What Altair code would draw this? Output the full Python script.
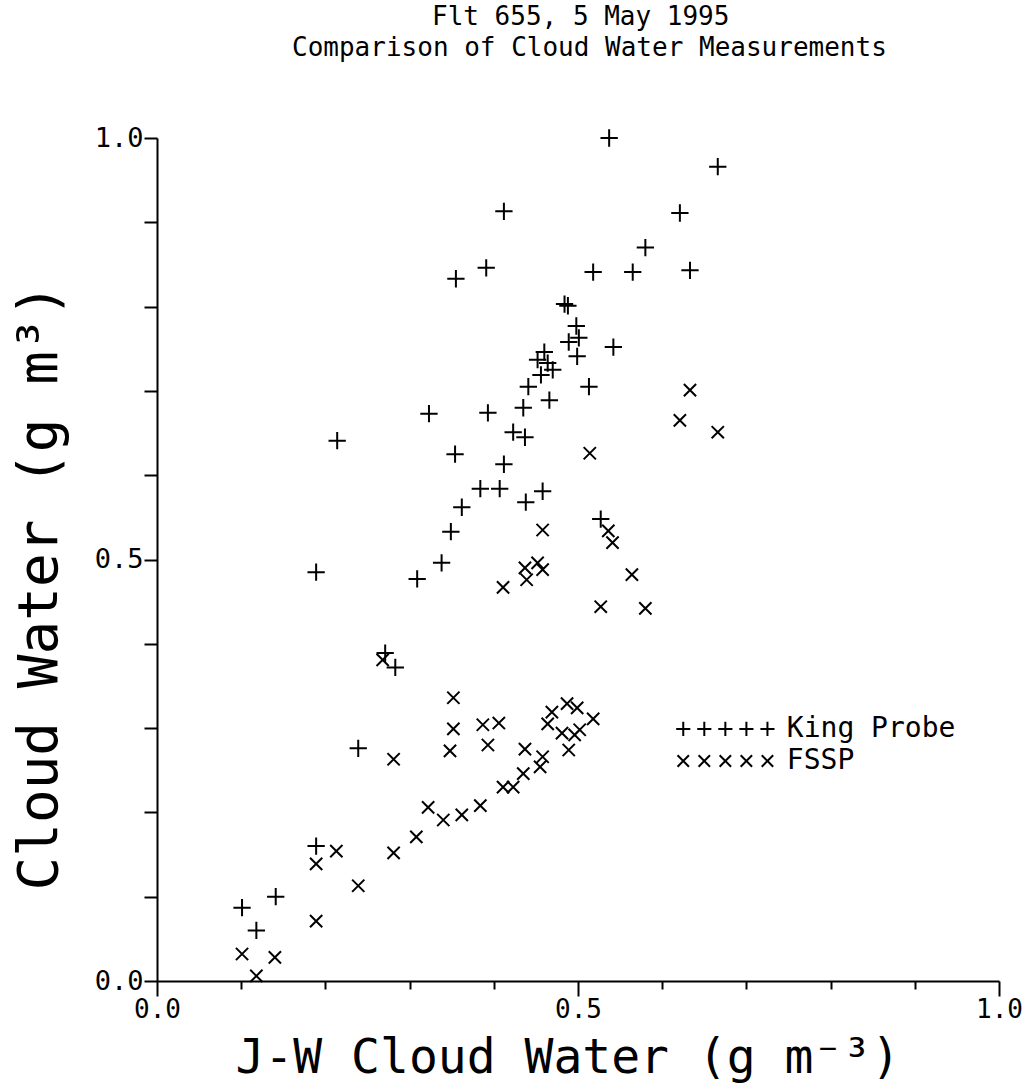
import altair as alt
import pandas as pd

# ---------------- data ----------------
king_x = [0.537, 0.666, 0.412, 0.621, 0.580, 0.391, 0.355, 0.518, 0.565, 0.633,
          0.484, 0.488, 0.498, 0.501, 0.489, 0.542, 0.499, 0.460, 0.452, 0.464,
          0.470, 0.456, 0.513, 0.441, 0.466, 0.435, 0.393, 0.323, 0.423, 0.437,
          0.214, 0.354, 0.412, 0.384, 0.407, 0.458, 0.438, 0.362, 0.349, 0.527,
          0.338, 0.309, 0.189, 0.271, 0.283, 0.239, 0.189, 0.141, 0.101, 0.118]
king_y = [1.000, 0.966, 0.913, 0.911, 0.870, 0.846, 0.833, 0.841, 0.841, 0.843,
          0.803, 0.801, 0.777, 0.763, 0.758, 0.752, 0.741, 0.746, 0.737, 0.733,
          0.725, 0.719, 0.705, 0.705, 0.689, 0.680, 0.674, 0.673, 0.651, 0.645,
          0.641, 0.625, 0.613, 0.584, 0.584, 0.581, 0.568, 0.562, 0.533, 0.548,
          0.496, 0.477, 0.485, 0.389, 0.372, 0.276, 0.160, 0.100, 0.087, 0.060]

fssp_x = [0.633, 0.621, 0.666, 0.514, 0.458, 0.536, 0.541, 0.564, 0.527, 0.580,
          0.411, 0.437, 0.439, 0.452, 0.458, 0.268, 0.352, 0.352, 0.387, 0.406,
          0.348, 0.393, 0.281, 0.437, 0.458, 0.455, 0.435, 0.423, 0.411, 0.384,
          0.362, 0.340, 0.322, 0.308, 0.469, 0.487, 0.499, 0.464, 0.481, 0.496,
          0.502, 0.518, 0.489, 0.281, 0.239, 0.213, 0.189, 0.189, 0.101, 0.140,
          0.118]
fssp_y = [0.701, 0.665, 0.651, 0.626, 0.535, 0.534, 0.520, 0.482, 0.444, 0.442,
          0.467, 0.490, 0.476, 0.496, 0.488, 0.381, 0.336, 0.299, 0.304, 0.306,
          0.273, 0.280, 0.263, 0.275, 0.266, 0.254, 0.246, 0.230, 0.230, 0.208,
          0.197, 0.191, 0.206, 0.171, 0.319, 0.329, 0.324, 0.305, 0.294, 0.292,
          0.298, 0.311, 0.274, 0.152, 0.113, 0.154, 0.139, 0.071, 0.032, 0.028,
          0.006]

series_names = ["King Probe", "FSSP"]
x_ticks = [0.0, 0.1, 0.2, 0.3, 0.4, 0.5, 0.6, 0.7, 0.8, 0.9, 1.0]
y_ticks = [0.0, 0.1, 0.2, 0.3, 0.4, 0.5, 0.6, 0.7, 0.8, 0.9, 1.0]

# legend placed in data units (five repeated symbols, then label)
legend_sym_x = [0.625, 0.650, 0.675, 0.700, 0.725]
legend_row_y = [0.299, 0.261]
legend_text_x = 0.748

title_lines = ["Flt 655, 5 May 1995", "Comparison of Cloud Water Measurements"]
x_title = "J-W Cloud Water (g m\u207b\u00b3)"
y_title = "Cloud Water (g m\u00b3)"

# ---------------- styling ----------------
FONT = "DejaVu Sans Mono"
PLUS = "M-1,0L1,0M0,-1L0,1"
CROSS = "M-1,-1L1,1M-1,1L1,-1"

W, H = 842, 843

king_df = pd.DataFrame({"x": king_x, "y": king_y, "series": series_names[0]})
fssp_df = pd.DataFrame({"x": fssp_x, "y": fssp_y, "series": series_names[1]})

major = "abs(datum.value*2 - round(datum.value*2)) < 0.001"

xscale = alt.Scale(domain=[0, 1], nice=False, zero=False)
yscale = alt.Scale(domain=[0, 1], nice=False, zero=False)

x_axis = alt.Axis(
    values=x_ticks, grid=False, domainColor="black", domainWidth=2,
    tickColor="black", tickWidth=2,
    tickSize={"condition": {"test": major, "value": 15}, "value": 8},
    labelExpr=f"{major} ? format(datum.value, '.1f') : ''",
    labelFont=FONT, labelFontSize=26, labelColor="black", labelPadding=0,
    labelOverlap=False, labelFlush=False,
    title=x_title, titleFont=FONT, titleFontSize=48, titleFontWeight="normal",
    titleColor="black", titleAlign="left", titleBaseline="alphabetic",
    titleX=78, titleY=91, titleAngle=0,
)
y_axis = alt.Axis(
    values=y_ticks, grid=False, domainColor="black", domainWidth=2,
    tickColor="black", tickWidth=2, tickSize=13,
    labelExpr=f"{major} ? format(datum.value, '.1f') : ''",
    labelFont=FONT, labelFontSize=27, labelColor="black", labelPadding=1,
    labelOverlap=False, labelFlush=False,
    title=y_title, titleFont=FONT, titleFontSize=56, titleFontWeight="normal",
    titleColor="black", titleAngle=-90, titleAlign="left",
    titleBaseline="alphabetic", titleX=-101, titleY=752,
)


def points(df, shape, size, axes=False):
    enc = {}
    if axes:
        enc["x"] = alt.X("x:Q", scale=xscale, axis=x_axis)
        enc["y"] = alt.Y("y:Q", scale=yscale, axis=y_axis)
    else:
        enc["x"] = alt.X("x:Q", scale=xscale)
        enc["y"] = alt.Y("y:Q", scale=yscale)
    return alt.Chart(df).mark_point(
        shape=shape, size=size, filled=False, stroke="black",
        strokeWidth=2, opacity=1,
    ).encode(**enc)


king_layer = points(king_df, PLUS, 300, axes=True)
fssp_layer = points(fssp_df, CROSS, 150)

leg_plus_df = pd.DataFrame({"x": legend_sym_x, "y": legend_row_y[0]})
leg_cross_df = pd.DataFrame({"x": legend_sym_x, "y": legend_row_y[1]})
leg_plus = points(leg_plus_df, PLUS, 200)
leg_cross = points(leg_cross_df, CROSS, 130)

leg_text_df = pd.DataFrame({"x": legend_text_x, "y": legend_row_y, "label": series_names})
leg_text = alt.Chart(leg_text_df).mark_text(
    align="left", baseline="middle", font=FONT, fontSize=28, color="black"
).encode(
    x=alt.X("x:Q", scale=xscale),
    y=alt.Y("y:Q", scale=yscale),
    text="label:N",
)

t1 = alt.Chart(pd.DataFrame({"t": [title_lines[0]]})).mark_text(
    align="left", baseline="middle", font=FONT, fontSize=26, color="black"
).encode(x=alt.value(275), y=alt.value(-121), text="t:N")
t2 = alt.Chart(pd.DataFrame({"t": [title_lines[1]]})).mark_text(
    align="left", baseline="middle", font=FONT, fontSize=26, color="black"
).encode(x=alt.value(135), y=alt.value(-90), text="t:N")

chart = alt.layer(
    king_layer, fssp_layer, leg_plus, leg_cross, leg_text, t1, t2
).properties(
    width=W, height=H,
    autosize=alt.AutoSizeParams(type="none"),
    padding={"left": 157, "top": 138, "right": 32, "bottom": 105},
    background="white",
).configure_view(stroke=None)

chart.save("out.html", embed_options={"renderer": "svg", "actions": False})
